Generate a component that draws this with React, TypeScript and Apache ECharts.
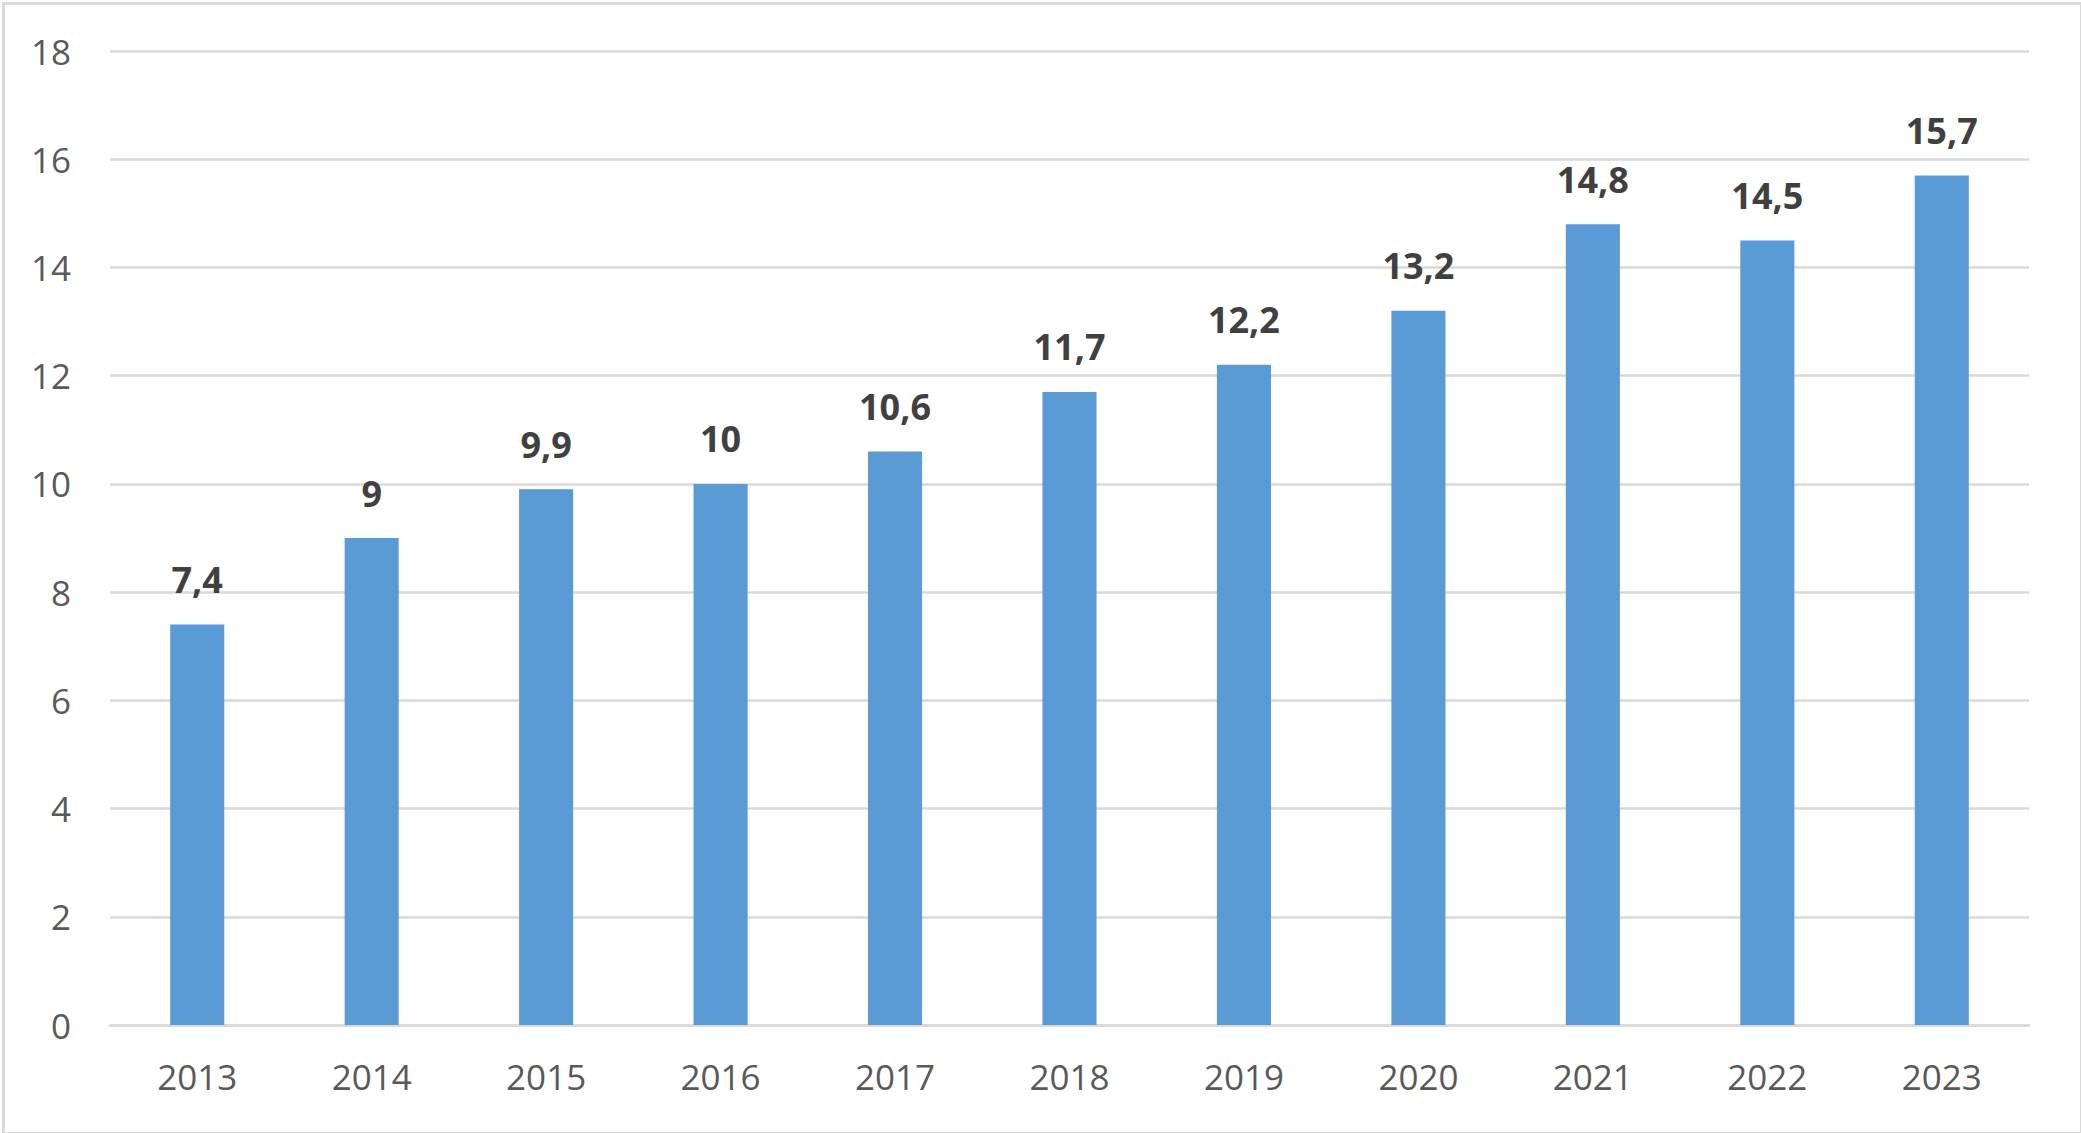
import React, { useEffect, useRef } from 'react';
import * as echarts from 'echarts';

// 年份与数值
const years = ['2013', '2014', '2015', '2016', '2017', '2018', '2019', '2020', '2021', '2022', '2023'];
const values = [7.4, 9, 9.9, 10, 10.6, 11.7, 12.2, 13.2, 14.8, 14.5, 15.7];
const yMin = 0;
const yMax = 18;
const yStep = 2;

const FONT = '"Open Sans", "Liberation Sans", sans-serif';

const App: React.FC = () => {
  const chartRef = useRef<HTMLDivElement>(null);

  useEffect(() => {
    if (!chartRef.current) return;
    document.body.style.margin = '0';
    const chart = echarts.init(chartRef.current, null, { renderer: 'svg' });

    const option: echarts.EChartsOption = {
      animation: false,
      backgroundColor: '#ffffff',
      textStyle: { fontFamily: FONT },
      graphic: [
        {
          type: 'rect',
          left: 1,
          top: 1,
          shape: { width: 2078, height: 1130 },
          style: { fill: 'none', stroke: '#d9d9d9', lineWidth: 3 },
          silent: true
        }
      ],
      grid: {
        left: 110,
        right: 52,
        top: 51,
        bottom: 108
      },
      xAxis: {
        type: 'category',
        data: years,
        axisLine: { show: true, lineStyle: { color: '#d9d9d9', width: 2.5 } },
        axisTick: { show: false },
        axisLabel: {
          color: '#595959',
          fontSize: 35,
          fontFamily: FONT,
          margin: 34
        }
      },
      yAxis: {
        type: 'value',
        min: yMin,
        max: yMax,
        interval: yStep,
        axisLine: { show: false },
        axisTick: { show: false },
        axisLabel: {
          color: '#595959',
          fontSize: 35,
          fontFamily: FONT,
          margin: 39
        },
        splitLine: { lineStyle: { color: '#d9d9d9', width: 2.5 } }
      },
      series: [
        {
          type: 'bar',
          data: values,
          barWidth: '31%',
          itemStyle: { color: '#5b9bd5' },
          label: {
            show: true,
            position: 'top',
            distance: 27,
            color: '#404040',
            fontSize: 36,
            fontWeight: 'bold',
            fontFamily: FONT,
            formatter: (p: any) => String(p.value).replace('.', ',')
          }
        }
      ]
    };

    chart.setOption(option);
    return () => {
      chart.dispose();
    };
  }, []);

  return <div ref={chartRef} style={{ width: 2081, height: 1133 }} />;
};

export default App;
